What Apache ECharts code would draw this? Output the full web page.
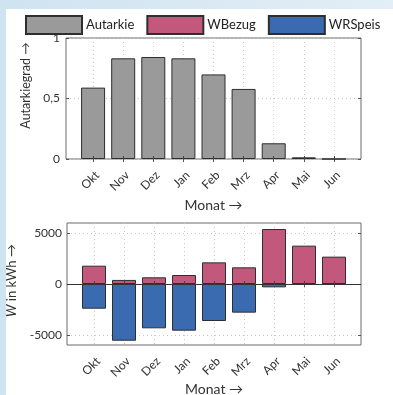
<!DOCTYPE html>
<html>
<head>
<meta charset="utf-8">
<script src="https://cdn.jsdelivr.net/npm/echarts@6/dist/echarts.min.js"></script>
<style>
  html, body { margin: 0; padding: 0; background: #fff; }
  #chart { width: 393px; height: 395px; }
</style>
</head>
<body>
<div id="chart"></div>
<script>
// Monthly self-sufficiency and energy balance (Oct - Jun)
const months = ['Okt', 'Nov', 'Dez', 'Jan', 'Feb', 'Mrz', 'Apr', 'Mai', 'Jun'];
const autarkie = [0.59, 0.832, 0.843, 0.832, 0.699, 0.579, 0.130, 0.014, 0];
const wBezug = [1800, 400, 660, 885, 2130, 1640, 5410, 3770, 2690];
const wrSpeis = [-2430, -5580, -4360, -4590, -3640, -2820, -330, -100, -20];
const autarkieTicks = [0, 0.5, 1];
const energyTicks = [-5000, 0, 5000];

// month n sits at x = n (1..9)
const monthX = months.map((m, i) => i + 1);
const pairs = (vals) => vals.map((v, i) => [monthX[i], v]);

const FONT = 'Lato';
const frameColor = '#6b6b6b';
const gridLine = { show: true, lineStyle: { color: '#c8c8c8', type: [1, 3], width: 1 } };

// bottom month axis: ticks drawn above the bars, labels rotated
function monthAxis(gridIndex, nameGap) {
  return {
    type: 'value', gridIndex, min: 0.1, max: 9.9, z: 5,
    axisLine: { show: false },
    axisTick: { show: true, inside: true, length: 3, customValues: monthX, lineStyle: { color: '#444' } },
    splitLine: { show: false },
    axisLabel: {
      customValues: monthX, rotate: 45, margin: 10,
      align: 'right', verticalAlign: 'top',
      fontFamily: FONT, fontSize: 12, color: '#333',
      formatter: (v) => months[Math.round(v) - 1] || ''
    },
    name: 'Monat \u2192', nameLocation: 'middle', nameGap,
    nameTextStyle: { fontFamily: FONT, fontSize: 14, color: '#333' }
  };
}
// top month axis: ticks plus the dotted vertical grid lines behind the bars
function mirrorX(gridIndex) {
  return {
    type: 'value', gridIndex, min: 0.1, max: 9.9, position: 'top',
    axisLine: { show: false },
    axisTick: { show: true, inside: true, length: 3, customValues: monthX, lineStyle: { color: '#555' } },
    axisLabel: { show: false }, splitLine: gridLine
  };
}
function mirrorY(gridIndex, min, max, ticks) {
  return {
    type: 'value', gridIndex, min, max, position: 'right',
    axisLine: { show: false },
    axisTick: { show: true, inside: true, length: 3, customValues: ticks, lineStyle: { color: '#555' } },
    axisLabel: { show: false }, splitLine: { show: false }
  };
}

const barStyle = (color) => ({ color, borderColor: '#2e2e2e', borderWidth: 1 });

const chart = echarts.init(document.getElementById('chart'), null, { renderer: 'canvas' });
chart.setOption({
  animation: false,
  backgroundColor: '#fff',
  graphic: [
    { type: 'rect', silent: true, z: -10, shape: { x: 0, y: 0, width: 393, height: 395 },
      style: { fill: new echarts.graphic.LinearGradient(0, 0, 1, 0, [
        { offset: 0, color: '#cfe3f1' }, { offset: 1, color: '#e3eef6' }]) } },
    { type: 'rect', silent: true, z: -9, shape: { x: 6, y: 9, width: 387, height: 386 },
      style: { fill: '#ffffff' } }
  ],
  legend: {
    left: 25, top: 15, padding: 0, itemWidth: 56, itemHeight: 18, itemGap: 12,
    icon: 'rect', backgroundColor: '#fff',
    textStyle: { fontFamily: FONT, fontSize: 13, color: '#222', padding: [0, 0, 0, -1] },
    data: ['Autarkie', 'WBezug', 'WRSpeis']
  },
  grid: [
    { left: 66, top: 38, width: 295, height: 121, outerBoundsMode: 'none', containLabel: false,
      show: true, borderColor: frameColor, borderWidth: 1, backgroundColor: 'transparent' },
    { left: 67, top: 223, width: 294, height: 122, outerBoundsMode: 'none', containLabel: false,
      show: true, borderColor: frameColor, borderWidth: 1, backgroundColor: 'transparent' }
  ],
  xAxis: [monthAxis(0, 39), monthAxis(1, 37), mirrorX(0), mirrorX(1)],
  yAxis: [
    {
      type: 'value', gridIndex: 0, min: 0, max: 1,
      axisLine: { show: false },
      axisTick: { show: true, inside: true, length: 3, customValues: autarkieTicks, lineStyle: { color: '#555' } },
      splitLine: gridLine,
      axisLabel: { customValues: autarkieTicks, margin: 6, fontFamily: FONT, fontSize: 12, color: '#333',
        formatter: (v) => String(v).replace('.', ',') },
      name: 'Autarkiegrad \u2192', nameLocation: 'middle', nameGap: 26,
      nameTextStyle: { fontFamily: FONT, fontSize: 12.5, color: '#333', padding: [0, 0, 0, 26] }
    },
    {
      type: 'value', gridIndex: 1, min: -6000, max: 6000,
      axisLine: { show: false },
      axisTick: { show: true, inside: true, length: 3, customValues: energyTicks, lineStyle: { color: '#555' } },
      splitLine: gridLine,
      axisLabel: { customValues: energyTicks, margin: 5, fontFamily: FONT, fontSize: 12, color: '#333',
        formatter: (v) => String(v) },
      name: '{i|W} in kWh \u2192', nameLocation: 'middle', nameGap: 41,
      nameTextStyle: { fontFamily: FONT, fontSize: 13, color: '#333', padding: [0, 0, 0, 7],
        rich: { i: { fontFamily: FONT, fontSize: 13, fontStyle: 'italic', color: '#333' } } }
    },
    mirrorY(0, 0, 1, autarkieTicks),
    mirrorY(1, -6000, 6000, energyTicks)
  ],
  series: [
    { name: 'Autarkie', type: 'bar', xAxisIndex: 0, yAxisIndex: 0, barWidth: 24,
      itemStyle: barStyle('#9a9a9a'), data: pairs(autarkie) },
    { name: 'WBezug', type: 'bar', xAxisIndex: 1, yAxisIndex: 1, barWidth: 24, barGap: '-100%',
      itemStyle: barStyle('#c2597c'), data: pairs(wBezug),
      markLine: { silent: true, symbol: 'none', label: { show: false },
        lineStyle: { color: '#333', type: 'solid', width: 1.2 }, data: [{ yAxis: 0 }] } },
    { name: 'WRSpeis', type: 'bar', xAxisIndex: 1, yAxisIndex: 1, barWidth: 24, barGap: '-100%',
      itemStyle: barStyle('#3a6bb1'), data: pairs(wrSpeis) }
  ]
});
</script>
</body>
</html>
